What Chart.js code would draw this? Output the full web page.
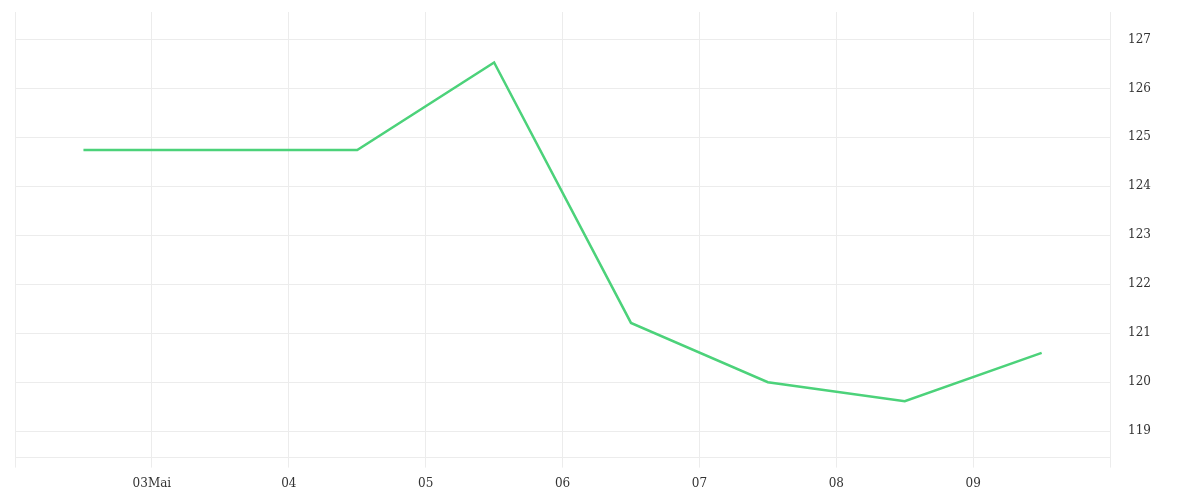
<!DOCTYPE html>
<html>
<head>
<meta charset="utf-8">
<script src="https://cdn.jsdelivr.net/npm/chart.js@4"></script>
<style>
  html, body { margin: 0; padding: 0; background: #fff; }
  #wrap { width: 1200px; height: 500px; }
</style>
</head>
<body>
<div id="wrap"><canvas id="priceChart"></canvas></div>
<script>
// days of May, points sit at noon
const days = [2.5, 3.5, 4.5, 5.5, 6.5, 7.5, 8.5, 9.5];
const values = [124.74, 124.74, 124.74, 126.53, 121.21, 120.0, 119.61, 120.6];
const dayLabels = { 3: '03Mai', 4: '04', 5: '05', 6: '06', 7: '07', 8: '08', 9: '09' };

const points = days.map((d, i) => ({ x: d, y: values[i] }));

const gridColor = '#ececec';
const tickFont = { family: 'DejaVu Serif', size: 12 };

const config = {
  type: 'line',
  data: {
    datasets: [{
      data: points,
      borderColor: '#4cd27a',
      borderWidth: 2.5,
      pointRadius: 0,
      tension: 0,
      fill: false,
    }],
  },
  options: {
    responsive: true,
    maintainAspectRatio: false,
    animation: false,
    layout: { padding: { top: 12, left: 15, right: 49, bottom: 0 } },
    plugins: { legend: { display: false }, tooltip: { enabled: false } },
    scales: {
      x: {
        type: 'linear',
        min: 2,
        max: 10,
        grid: { color: gridColor, tickLength: 10, drawTicks: true },
        border: { color: gridColor },
        ticks: {
          stepSize: 1,
          color: '#333',
          font: tickFont,
          padding: 9,
          maxRotation: 0,
          callback: (v) => dayLabels[v] || '',
        },
      },
      y: {
        position: 'right',
        min: 118.46,
        max: 127.56,
        grid: { color: gridColor, drawTicks: true, tickLength: 18, tickColor: 'transparent' },
        border: { color: gridColor },
        ticks: {
          stepSize: 1,
          includeBounds: false,
          color: '#333',
          font: tickFont,
          padding: 0,
        },
      },
    },
  },
};

const ctx = document.getElementById('priceChart').getContext('2d');
new Chart(ctx, config);
</script>
</body>
</html>
